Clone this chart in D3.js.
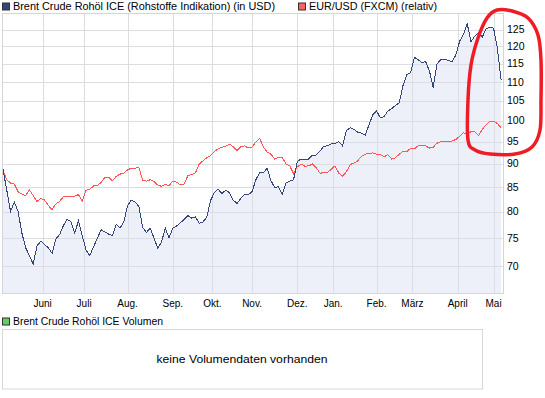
<!DOCTYPE html>
<html lang="de">
<head>
<meta charset="utf-8"/>
<title>Brent Crude Rohöl ICE</title>
<script src="https://d3js.org/d3.v7.min.js"></script>
<style>
  body { margin: 0; background: #fff; }
  text { font-family: "Liberation Sans", Arial, sans-serif; font-size: 10px; fill: #000; }
</style>
</head>
<body>
<svg id="chart" width="545" height="398"></svg>
<script>
// one reading every 2nd trading day, from early May 2010 to early May 2011
const step = 2;
const brent = [
  88.7, 84.3, 80, 81.9, 80, 75.9, 73.2, 71.8, 70.3, 73.5,
  74.4, 73.8, 73.2, 72.2, 74.8, 75.6, 77.3, 78.5, 78, 75.9,
  78.2, 75.4, 72.8, 71.8, 73.4, 74.9, 76.5, 76.1, 75.7, 75.4,
  77.5, 76.8, 78, 81.1, 82.3, 81.9, 81, 77, 76, 76.8,
  75, 73.1, 74.2, 76.8, 75, 76.8, 77.2, 77.8, 78.5, 79.2,
  78.7, 79, 77.7, 78, 78.9, 82.2, 83.8, 84.5, 83.6, 84.3,
  83.8, 82.3, 81.6, 82.6, 83.4, 83.4, 84, 86.5, 88, 88,
  89, 86.3, 84.9, 85, 83.5, 85.8, 86.2, 86.5, 90.5, 91,
  90.8, 91, 91.9, 91.9, 92.8, 93.9, 94, 94.5, 94.5, 95,
  94, 97.6, 98.3, 97.9, 97.2, 97, 96.5, 99, 101.5, 102.4,
  100.7, 101, 102.4, 103, 103.8, 104.5, 109, 112, 112.5, 116.8,
  116.2, 115.3, 115.6, 113, 108.5, 114.9, 116.2, 116.2, 116, 115.5,
  117.5, 121.5, 123.5, 127, 121.4, 123, 124.2, 122.8, 125.2, 125.8,
  125.5, 119.5, 110.5
];
// EUR/USD rebased to the Brent start value
const eurusd = [
  88.6, 86.5, 85.8, 85.6, 84, 83.5, 83.2, 84.4, 83.2, 82,
  82.6, 82.3, 81.2, 80.4, 81.5, 82, 83, 83.1, 83.1, 83.1,
  83.4, 82.1, 84.3, 84.5, 85.2, 85.3, 85.9, 87, 87, 86.3,
  87.2, 87.7, 87.9, 88.6, 89, 89, 89.2, 86.4, 86.2, 86.5,
  86.1, 85.4, 85.1, 85.5, 85.3, 86.2, 86, 85.4, 85.6, 87.4,
  87.6, 88, 89.9, 90.6, 91.3, 91.8, 92.7, 93.3, 93.7, 93.9,
  94.4, 93.8, 92.9, 93.8, 94, 93.5, 93.7, 94.9, 95.8, 93.7,
  92.6, 92.1, 91, 91.4, 91.4, 89.9, 89.5, 87.8, 89.3, 89.9,
  89.4, 89.5, 89.9, 89.1, 87.9, 88, 88, 88.8, 89.5, 87.9,
  87.3, 88.2, 89.8, 90.1, 90.6, 91.6, 92.1, 92.3, 92.4, 92.1,
  92, 91.5, 92, 91, 91.3, 92.1, 92.7, 92.7, 93.4, 93.3,
  94, 94, 94, 93.5, 93.7, 94.6, 95, 95.1, 95, 95.1,
  95.5, 96.2, 97.1, 96.8, 97.3, 97.4, 96.4, 97.9, 99, 99.9,
  99.9, 99.3, 98.3
];
const yTicks = [70, 75, 80, 85, 90, 95, 100, 105, 110, 115, 120, 125];
const months = ["Juni", "Juli", "Aug.", "Sep.", "Okt.", "Nov.", "Dez.", "Jan.", "Feb.", "März", "April", "Mai"];
const monthStart = [21, 43, 66, 90, 111, 132, 156, 175, 198, 217, 241, 260]; // trading day index

const svg = d3.select("#chart");
const plotL = 3, plotR = 503, plotT = 13.5, plotB = 293;

const x = d3.scaleLinear().domain([0, 265]).range([plotL, plotR]);
const y = d3.scaleLog().domain([65.5, 130.1]).range([plotB, plotT]);

const crisp = v => Math.round(v) + 0.5;

// area under brent
svg.append("path")
  .datum(brent)
  .attr("fill", "#eef0f9")
  .attr("d", d3.area().x((d, i) => x(i * step)).y0(plotB).y1(d => y(d)));

// grid
svg.selectAll("line.hgrid").data(yTicks).enter().append("line")
  .attr("class", "hgrid")
  .attr("x1", plotL).attr("x2", plotR)
  .attr("y1", d => crisp(y(d))).attr("y2", d => crisp(y(d)))
  .attr("stroke", "#dcdde2");
svg.selectAll("line.vgrid").data(monthStart).enter().append("line")
  .attr("class", "vgrid")
  .attr("x1", d => crisp(x(d))).attr("x2", d => crisp(x(d)))
  .attr("y1", plotT).attr("y2", plotB)
  .attr("stroke", "#dcdde2");

// frame
svg.append("rect")
  .attr("x", plotL - 0.5).attr("y", crisp(plotT - 1))
  .attr("width", plotR - plotL + 1).attr("height", plotB - plotT + 0.5)
  .attr("fill", "none").attr("stroke", "#d4d5da");

// lines
const line = d3.line().x((d, i) => x(i * step)).y(d => y(d));
svg.append("path").datum(eurusd)
  .attr("fill", "none").attr("stroke", "#ff5555").attr("stroke-width", 1)
  .attr("shape-rendering", "crispEdges")
  .attr("d", line);
svg.append("path").datum(brent)
  .attr("fill", "none").attr("stroke", "#34467a").attr("stroke-width", 1)
  .attr("shape-rendering", "crispEdges")
  .attr("d", line);

// y labels
svg.selectAll("text.ylab").data(yTicks).enter().append("text")
  .attr("class", "ylab")
  .attr("x", 507).attr("y", d => y(d)).attr("dy", "0.35em")
  .style("font-size", "10.5px")
  .text(d => d);

// x labels
svg.selectAll("text.xlab").data(months).enter().append("text")
  .attr("class", "xlab")
  .attr("x", (d, i) => x(monthStart[i])).attr("y", 307)
  .attr("text-anchor", "middle")
  .text(d => d);

// legends
function legend(xp, yp, color, label, w) {
  svg.append("rect").attr("x", xp + 0.5).attr("y", yp + 0.5).attr("width", 7).attr("height", 7)
    .attr("fill", color).attr("stroke", "#333");
  svg.append("text").attr("x", xp + 11).attr("y", yp + 7.5)
    .attr("textLength", w).attr("lengthAdjust", "spacingAndGlyphs")
    .text(label);
}
legend(2, 2.5, "#34467a", "Brent Crude Rohöl ICE (Rohstoffe Indikation) (in USD)", 262);
legend(298, 2.5, "#ff6060", "EUR/USD (FXCM) (relativ)", 128);
legend(2, 317.5, "#66cc66", "Brent Crude Rohöl ICE Volumen", 150);

// volume panel
svg.append("rect")
  .attr("x", 2.5).attr("y", 329.5).attr("width", 480).attr("height", 59.5)
  .attr("fill", "#fff").attr("stroke", "#d8d8d8");
svg.append("text")
  .attr("x", 242).attr("y", 359).attr("dy", "0.35em")
  .attr("text-anchor", "middle").style("font-size", "11px")
  .attr("textLength", 171).attr("lengthAdjust", "spacingAndGlyphs")
  .text("keine Volumendaten vorhanden");

// hand-drawn marker round the right axis
const mark = [[468,140],[468,100],[471,65],[478,38],[487,18],[497,10],[512,11],[528,18],[538,35],
  [541,60],[541,100],[540,130],[532,147],[515,154],[490,154],[475,150]];
svg.append("path")
  .attr("d", d3.line().curve(d3.curveCardinalClosed)(mark))
  .attr("fill", "none").attr("stroke", "#ee1c24").attr("stroke-width", 3.5);
</script>
</body>
</html>
